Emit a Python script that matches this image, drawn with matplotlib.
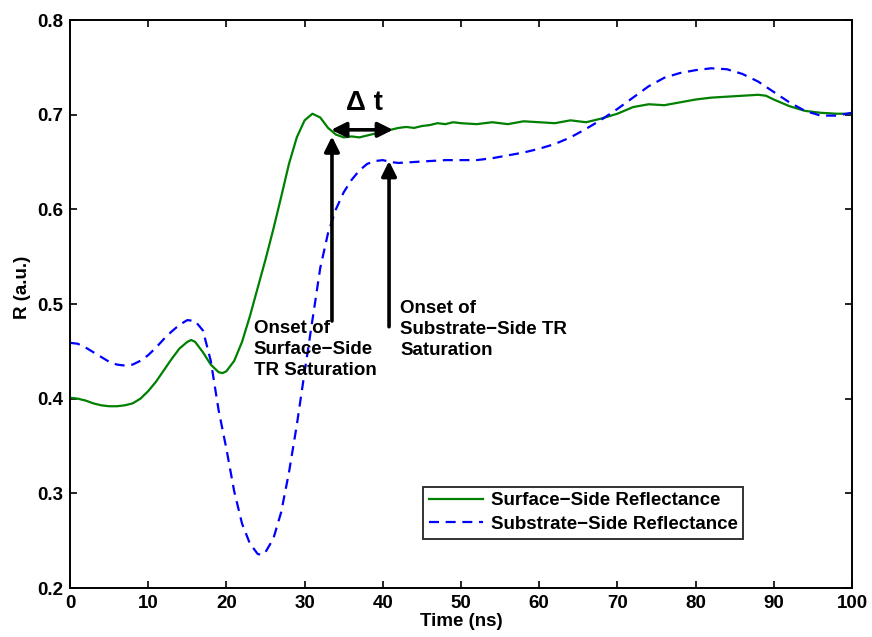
import numpy as np
import matplotlib
matplotlib.use('Agg')
import matplotlib.pyplot as plt

plt.rcParams['font.family'] = ['Liberation Sans', 'DejaVu Sans']
plt.rcParams['font.weight'] = 'bold'

# ---- data ----
t_surf = [0, 1, 2, 3, 4, 5, 6, 7, 8, 9, 10, 11, 12, 13, 14, 15, 15.5, 16, 17, 18,
          19, 19.5, 20, 21, 22, 23, 24, 25, 26, 27, 28, 29, 30, 31, 32, 33, 34, 35,
          36, 37, 38, 39, 40, 41, 42, 43, 44, 45, 46, 47, 48, 49, 50, 52, 54, 56,
          58, 60, 62, 64, 66, 68, 70, 72, 74, 76, 78, 80, 82, 84, 86, 88, 89, 90,
          92, 94, 96, 98, 100]
r_surf = [0.401, 0.400, 0.398, 0.395, 0.393, 0.392, 0.392, 0.393, 0.395, 0.400,
          0.408, 0.418, 0.430, 0.442, 0.453, 0.460, 0.462, 0.460, 0.449, 0.436,
          0.428, 0.427, 0.429, 0.440, 0.460, 0.487, 0.517, 0.547, 0.579, 0.613,
          0.648, 0.676, 0.694, 0.701, 0.697, 0.686, 0.679, 0.676, 0.677, 0.676,
          0.678, 0.680, 0.683, 0.684, 0.686, 0.687, 0.686, 0.688, 0.689, 0.691,
          0.690, 0.692, 0.691, 0.690, 0.692, 0.690, 0.693, 0.692, 0.691, 0.694,
          0.692, 0.696, 0.701, 0.708, 0.711, 0.710, 0.713, 0.716, 0.718, 0.719,
          0.720, 0.721, 0.720, 0.716, 0.709, 0.704, 0.702, 0.701, 0.701]

t_subs = [0, 1, 2, 3, 4, 5, 6, 7, 8, 9, 10, 11, 12, 13, 14, 15, 16, 17, 18, 19,
          20, 21, 22, 23, 24, 24.5, 25, 26, 27, 28, 29, 30, 31, 32, 33, 34, 35,
          36, 37, 38, 39, 40, 41, 42, 44, 46, 48, 50, 52, 54, 56, 58, 60, 62, 64,
          66, 68, 70, 72, 74, 76, 78, 80, 82, 84, 86, 88, 90, 92, 94, 96, 98, 100]
r_subs = [0.459, 0.458, 0.454, 0.449, 0.444, 0.439, 0.436, 0.435, 0.436, 0.440,
          0.446, 0.454, 0.463, 0.471, 0.478, 0.483, 0.482, 0.472, 0.440, 0.388,
          0.347, 0.302, 0.268, 0.247, 0.236, 0.235, 0.238, 0.252, 0.280, 0.322,
          0.372, 0.428, 0.483, 0.538, 0.575, 0.600, 0.618, 0.631, 0.641, 0.648,
          0.651, 0.652, 0.650, 0.649, 0.650, 0.651, 0.652, 0.652, 0.652, 0.654,
          0.657, 0.660, 0.664, 0.669, 0.676, 0.685, 0.695, 0.706, 0.718, 0.730,
          0.739, 0.744, 0.747, 0.749, 0.748, 0.743, 0.735, 0.724, 0.713, 0.704,
          0.699, 0.699, 0.702]

x_ticks = [0, 10, 20, 30, 40, 50, 60, 70, 80, 90, 100]
y_ticks = [0.2, 0.3, 0.4, 0.5, 0.6, 0.7, 0.8]

# onset markers (ns, R start, R tip)
onset_surf = (33.5, 0.482, 0.677)
onset_subs = (40.8, 0.476, 0.651)
dt_span = (33.4, 41.3, 0.684)

FS = 13.5

fig = plt.figure(figsize=(8.72, 6.37), dpi=100)
ax = fig.add_axes([0.0803, 0.0769, 0.8967, 0.8917])

ax.plot(t_surf, r_surf, color='#008000', lw=1.6, label='Surface\u2212Side Reflectance')
ax.plot(t_subs, r_subs, color='#0000ff', lw=1.6, dashes=(4.5, 3),
        label='Substrate\u2212Side Reflectance')

ax.set_xlim(0, 100)
ax.set_ylim(0.2, 0.8)
ax.set_xticks(x_ticks)
ax.set_yticks(y_ticks)
ax.set_xticklabels([str(v) for v in x_ticks])
ax.set_yticklabels([f'{v:.1f}' for v in y_ticks])
ax.tick_params(direction='in', length=5, width=1.2, top=True, right=True,
               labelsize=FS, pad=5)
for s in ax.spines.values():
    s.set_linewidth(1.4)

ax.set_xlabel('Time (ns)', fontsize=FS, fontweight='bold', labelpad=1)
ax.set_ylabel('R (a.u.)', fontsize=FS, fontweight='bold')
ax.yaxis.set_label_coords(-0.05, 0.53)

arrow_kw = dict(arrowstyle='-|>,head_length=0.9,head_width=0.45', lw=2.6,
                color='k', shrinkA=0, shrinkB=0)
for x0, y0, y1 in (onset_surf, onset_subs):
    ax.annotate('', xy=(x0, y1), xytext=(x0, y0), arrowprops=arrow_kw)

ax.annotate('', xy=(dt_span[0], dt_span[2]), xytext=(dt_span[1], dt_span[2]),
            arrowprops=dict(arrowstyle='<|-|>,head_length=0.9,head_width=0.45',
                            lw=2.6, color='k', shrinkA=0, shrinkB=0))
ax.text(37.6, 0.712, '\u0394 t', fontsize=20, fontweight='bold',
        ha='center', va='center')

ax.text(23.5, 0.483, 'Onset of\nSurface\u2212Side\nTR Saturation', fontsize=FS,
        fontweight='bold', ha='left', va='top', linespacing=1.3)
ax.text(42.2, 0.504, 'Onset of\nSubstrate\u2212Side TR\nSaturation', fontsize=FS,
        fontweight='bold', ha='left', va='top', linespacing=1.3)

leg = ax.legend(loc='lower left', bbox_to_anchor=(0.452, 0.087), fontsize=FS,
                frameon=True, fancybox=False, edgecolor='k', borderpad=0.3,
                handlelength=2.9, handletextpad=0.4, labelspacing=0.35,
                borderaxespad=0)
leg.get_frame().set_linewidth(1.4)

fig.savefig('out.png', dpi=100)
